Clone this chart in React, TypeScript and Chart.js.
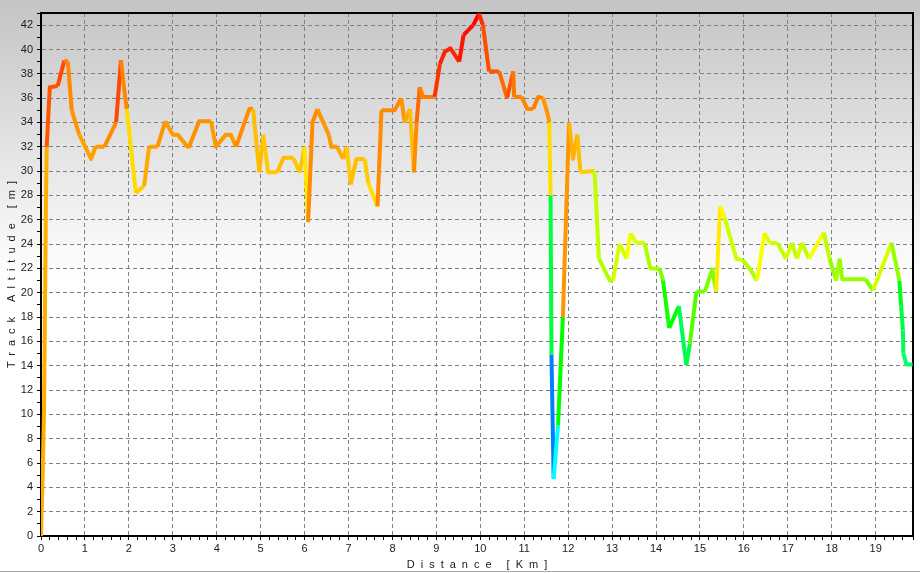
import { useEffect, useRef } from 'react';
import { Chart, registerables } from 'chart.js';

Chart.register(...registerables);

const distanceKm = [
  0.0, 0.04, 0.07, 0.11, 0.13, 0.2, 0.38, 0.53, 0.61, 0.7, 0.87, 1.14, 1.24, 1.44, 1.59, 1.71, 1.82, 1.87, 1.95,
  2.16, 2.35, 2.46, 2.65, 2.83, 3.0, 3.11, 3.36, 3.6, 3.87, 3.98, 4.21, 4.32, 4.44, 4.74, 4.83, 4.97, 5.06, 5.17,
  5.38, 5.52, 5.74, 5.89, 6.0, 6.08, 6.18, 6.29, 6.55, 6.61, 6.74, 6.88, 6.96, 7.05, 7.18, 7.37, 7.45, 7.66, 7.75,
  8.05, 8.2, 8.28, 8.4, 8.49, 8.55, 8.62, 8.7, 8.96, 9.08, 9.19, 9.32, 9.52, 9.62, 9.84, 9.97, 10.06, 10.2, 10.43,
  10.61, 10.75, 10.77, 10.94, 11.07, 11.2, 11.32, 11.43, 11.54, 11.57, 11.6, 11.62, 11.67, 11.77, 11.88, 12.02,
  12.11, 12.21, 12.28, 12.6, 12.7, 12.95, 13.02, 13.17, 13.33, 13.42, 13.55, 13.74, 13.87, 14.08, 14.16, 14.3,
  14.52, 14.69, 14.77, 14.92, 15.11, 15.28, 15.37, 15.46, 15.56, 15.83, 15.97, 16.13, 16.3, 16.47, 16.59, 16.76,
  16.96, 17.09, 17.21, 17.32, 17.48, 17.82, 17.95, 18.1, 18.18, 18.24, 18.77, 18.94, 19.36, 19.54, 19.58, 19.62,
  19.63, 19.7, 19.84,
];

const altitudeM = [
  0, 5.3, 10.6, 26.5, 32.0, 36.9, 37.0, 39.1, 39.0, 35.0, 33.0, 31.0, 32.0, 32.0, 33.1, 34.0, 39.1, 37.5, 35.1,
  28.2, 28.8, 32.0, 32.0, 34.1, 33.0, 33.0, 31.9, 34.1, 34.1, 32.0, 33.0, 33.0, 32.0, 35.1, 35.1, 29.9, 33.0, 29.9,
  29.9, 31.1, 31.1, 29.9, 32.0, 25.8, 34.0, 35.1, 33.0, 32.0, 32.0, 31.0, 32.0, 28.9, 31.0, 31.0, 29.0, 27.1, 35.0,
  35.0, 36.0, 34.0, 35.1, 29.9, 34.0, 36.9, 36.1, 36.1, 38.8, 39.8, 40.1, 39.0, 41.2, 42.0, 42.95, 42.0, 38.2, 38.2,
  36.0, 38.2, 36.1, 36.1, 35.1, 35.1, 36.1, 36.0, 34.6, 34.0, 28.0, 14.9, 4.7, 9.1, 18.0, 34.0,
  31.0, 33.0, 29.9, 30.0, 22.8, 21.0, 21.0, 24.0, 22.8, 24.9, 24.1, 24.1, 22.0, 22.0, 21.0, 17.1,
  18.9, 14.05, 15.8, 20.1, 20.1, 21.9, 20.1, 27.1, 26.2, 22.8, 22.7, 22.0, 21.0, 24.9, 24.1, 24.1,
  22.8, 24.1, 22.8, 24.1, 22.8, 24.95, 22.8, 21.0, 22.8, 21.1, 21.1, 20.2, 24.1, 21.0, 18.9, 16.9,
  15.0, 14.1, 14.1,
];

// hue (degrees) of the track colour at each point
const segmentHue = [
  41, 41, 41, 41, 41, 20, 20, 17, 30, 32, 35, 38, 38, 36, 33, 33, 17, 30, 32,
  52, 48, 40, 38, 35, 36, 36, 36, 34, 34, 36, 36, 36, 36, 33, 33, 45, 44, 47,
  47, 45, 45, 47, 46, 54, 33, 33, 35, 36, 36, 40, 42, 48, 45, 45, 48, 52, 33,
  32, 32, 35, 40, 45, 33, 25, 30, 30, 12, 8, 8, 8, 5, 3, 0, 10, 18, 20,
  25, 20, 28, 30, 32, 32, 30, 30, 35, 35, 52, 135, 210, 180, 120, 35,
  42, 42, 45, 48, 75, 78, 78, 70, 72, 62, 68, 70, 80, 80, 90, 115,
  120, 140, 135, 100, 95, 90, 90, 55, 58, 72, 72, 78, 80, 62, 68, 70,
  75, 70, 75, 70, 75, 62, 75, 85, 80, 85, 85, 90, 70, 85, 125, 135,
  140, 145, 145,
];

const xRange = [0, 19.85];
const yRange = [0, 43];
const xTitle = 'Distance [Km]';
const yTitle = 'Track Altitude [m]';

const FONT = '"Liberation Sans", Arial, sans-serif';

export default function App() {
  const canvasRef = useRef<HTMLCanvasElement | null>(null);

  useEffect(() => {
    const canvas = canvasRef.current;
    if (!canvas) return;

    const bgPlugin = {
      id: 'bg',
      beforeDraw(chart: any) {
        const { ctx, width, height } = chart;
        ctx.save();
        const g = ctx.createLinearGradient(0, 0, 0, 280);
        g.addColorStop(0, '#c4c4c4');
        g.addColorStop(1, '#ffffff');
        ctx.fillStyle = g;
        ctx.fillRect(0, 0, width, 280);
        ctx.fillStyle = '#ffffff';
        ctx.fillRect(0, 280, width, height - 280);
        ctx.fillStyle = '#aca899';
        ctx.fillRect(0, height - 2, width, 1);
        ctx.restore();
      },
      beforeDatasetsDraw(chart: any) {
        const { ctx, chartArea } = chart;
        ctx.save();
        ctx.strokeStyle = '#000';
        ctx.lineWidth = 2;
        ctx.beginPath();
        ctx.moveTo(chartArea.left, chartArea.top);
        ctx.lineTo(chartArea.right, chartArea.top);
        ctx.lineTo(chartArea.right, chartArea.bottom);
        ctx.stroke();
        ctx.restore();
      },
      afterDraw(chart: any) {
        const { ctx, chartArea } = chart;
        ctx.save();
        ctx.fillStyle = '#1a1a1a';
        ctx.font = `11px ${FONT}`;
        (ctx as any).letterSpacing = '6px';
        ctx.textAlign = 'center';
        ctx.textBaseline = 'middle';
        ctx.fillText(xTitle, (chartArea.left + chartArea.right) / 2 + 3, 565);
        ctx.translate(12, (chartArea.top + chartArea.bottom) / 2);
        ctx.rotate(-Math.PI / 2);
        ctx.fillText(yTitle, 3, 0);
        ctx.restore();
      },
    };

    const isInt = (v: number) => Math.abs(v - Math.round(v)) < 1e-6;

    const chart = new Chart(canvas, {
      type: 'line',
      data: {
        datasets: [
          {
            data: distanceKm.map((d, i) => ({ x: d, y: altitudeM[i] })),
            borderWidth: 4,
            pointRadius: 0,
            tension: 0,
            borderJoinStyle: 'round',
            borderCapStyle: 'butt',
            borderColor: 'hsl(41,100%,50%)',
            segment: {
              borderColor: (ctx: any) => `hsl(${segmentHue[ctx.p1DataIndex]},100%,50%)`,
            },
          } as any,
        ],
      },
      options: {
        responsive: false,
        animation: false,
        devicePixelRatio: 1,
        layout: { padding: { top: 13, right: 7, left: 0, bottom: 0 } },
        plugins: {
          legend: { display: false },
          tooltip: { enabled: false },
        },
        scales: {
          x: {
            type: 'linear',
            min: xRange[0],
            max: xRange[1],
            afterFit: (s: any) => {
              s.height = 37;
            },
            ticks: {
              stepSize: 0.2,
              autoSkip: false,
              maxRotation: 0,
              padding: 2,
              color: '#1a1a2a',
              font: { family: FONT, size: 11 },
              callback: (v: any) => (isInt(Number(v)) ? String(Math.round(Number(v))) : ''),
            },
            grid: {
              color: (c: any) => (c.tick && isInt(c.tick.value) ? '#808080' : 'rgba(0,0,0,0)'),
              tickColor: '#000',
              tickLength: 4,
              lineWidth: 1,
            },
            border: { display: true, color: '#000', width: 2, dash: [4, 3] },
          },
          y: {
            type: 'linear',
            min: yRange[0],
            max: yRange[1],
            afterFit: (s: any) => {
              s.width = 41;
            },
            ticks: {
              stepSize: 1,
              autoSkip: false,
              padding: 4,
              color: '#1a1a2a',
              font: { family: FONT, size: 11 },
              callback: (v: any) => (Number(v) % 2 === 0 ? String(v) : ''),
            },
            grid: {
              color: (c: any) => (c.tick && c.tick.value % 2 === 0 ? '#808080' : 'rgba(0,0,0,0)'),
              tickColor: '#000',
              tickLength: 4,
              lineWidth: 1,
            },
            border: { display: true, color: '#000', width: 2, dash: [4, 3] },
          },
        },
      } as any,
      plugins: [bgPlugin],
    });

    return () => chart.destroy();
  }, []);

  return (
    <div style={{ position: 'absolute', left: 0, top: 0, width: 920, height: 573 }}>
      <canvas ref={canvasRef} width={920} height={573} />
    </div>
  );
}
